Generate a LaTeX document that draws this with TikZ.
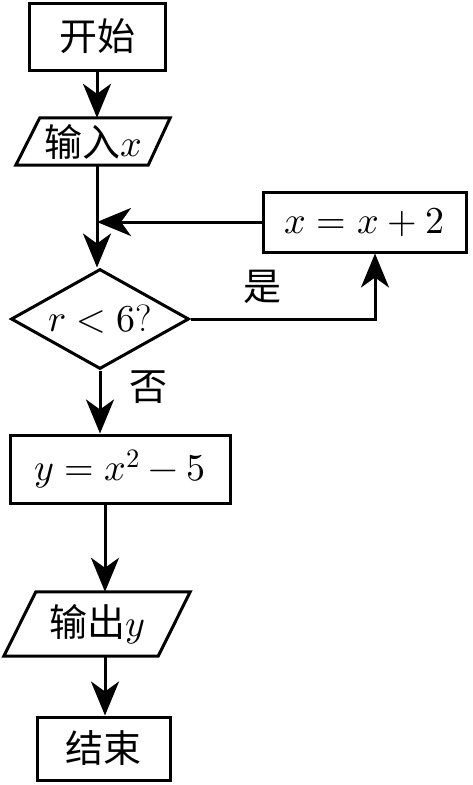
\documentclass[tikz,border=0pt]{standalone}
\usepackage{fontspec}
\usepackage{unicode-math}
\setmathfont{Latin Modern Math}
\newfontfamily\cjk{Noto Sans CJK SC}
\usetikzlibrary{shapes.geometric,arrows.meta,calc}
\newcommand\myfs{\fontsize{38}{44}\selectfont}
\begin{document}
\begin{tikzpicture}[x=1pt,y=-1pt,
  box/.style={draw, line width=3pt, rectangle, inner sep=0pt, font=\myfs},
  plain/.style={inner sep=0pt, font=\myfs},
  edge/.style={line width=3pt, line join=miter},
  flow/.style={line width=3pt, -{Stealth[length=34pt,width=28pt,inset=10pt]}}]
\useasboundingbox (0,0) rectangle (473,785);
\fill[white] (0,0) rectangle (473,785);

\node[box, minimum width=136pt, minimum height=67pt] (start) at (97,36.5) {\cjk 开始};
\node[plain, minimum width=154pt, minimum height=47pt] (in) at (93,141.5) {\cjk 输入$x$};
\draw[edge] ($(in.north west)+(24pt,0pt)$) -- (in.north east) -- ($(in.south east)+(-22pt,0pt)$) -- (in.south west) -- cycle;

\node[draw, line width=3pt, diamond, aspect=1.75, inner sep=0pt, minimum width=178pt, minimum height=100pt, font=\myfs] (dia) at (100,319) {$r<6$?};
\node[box, minimum width=203pt, minimum height=60pt] (xbox) at (364.5,222) {$x=x+2$};
\node[box, minimum width=220pt, minimum height=68pt] (proc) at (120,469) {$y=x^2-5$};
\node[plain, minimum width=186pt, minimum height=64pt] (out) at (97,624) {\cjk 输出$y$};
\draw[edge] ($(out.north west)+(32pt,0pt)$) -- (out.north east) -- ($(out.south east)+(-32pt,0pt)$) -- (out.south west) -- cycle;
\node[box, minimum width=133pt, minimum height=63pt] (end) at (103.5,748.5) {\cjk 结束};

\node[plain] (yes) at (262,287) {\cjk 是};
\node[plain] (no) at (148,387) {\cjk 否};
\coordinate (lx) at (105,0);

\draw[flow] (start.south) -- (start.south |- in.north);
\draw[flow] (start.south |- in.south) -- (start.south |- dia.north);
\draw[flow] (xbox.west) -- (start.south |- xbox.west);
\draw[flow] (dia.east) -| ([xshift=10.5pt]xbox.south);
\draw[flow] (dia.south) -- (dia.south |- proc.north);
\draw[flow] (proc.south -| lx) -- (out.north -| lx);
\draw[flow] (out.south -| lx) -- (end.north -| lx);
\end{tikzpicture}
\end{document}
